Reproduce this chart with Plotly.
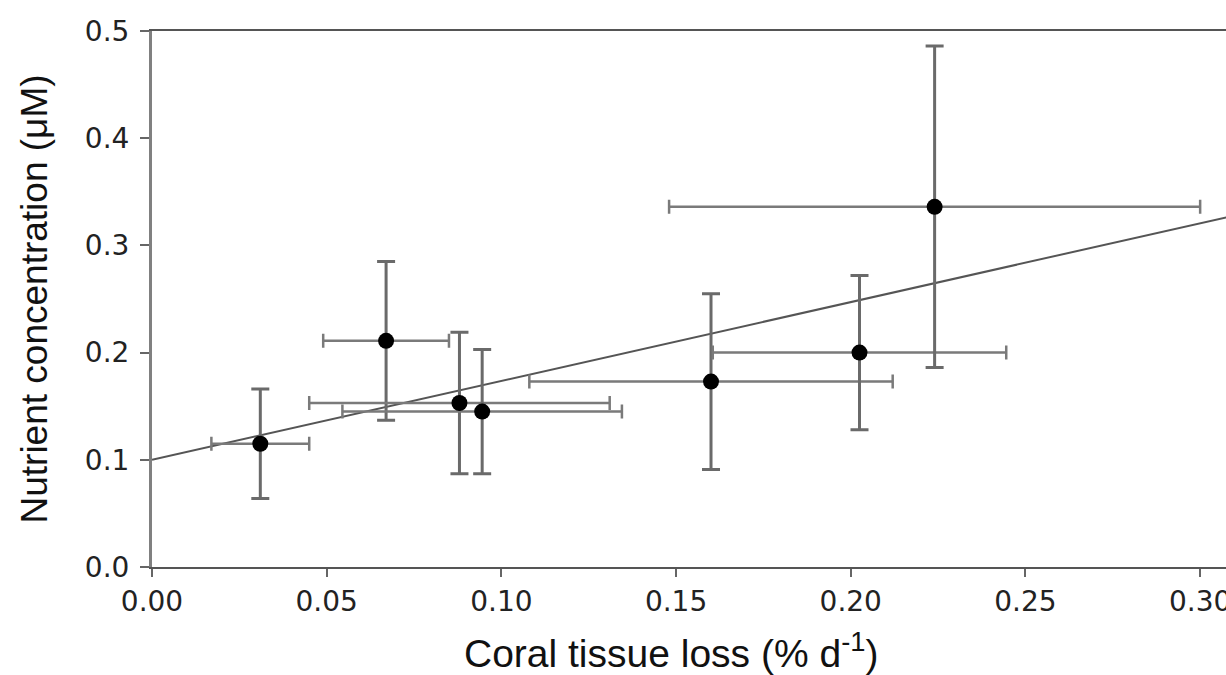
import plotly.graph_objects as go

# Data
tissue_loss = [0.031, 0.067, 0.088, 0.0945, 0.160, 0.2025, 0.224]
tissue_loss_err = [0.014, 0.018, 0.043, 0.040, 0.052, 0.042, 0.076]
nutrient = [0.115, 0.211, 0.153, 0.145, 0.173, 0.200, 0.336]
nutrient_err = [0.051, 0.074, 0.066, 0.058, 0.082, 0.072, 0.150]

fit_x = [0.0, 0.31]
fit_y = [0.100, 0.328]

x_ticks = [0.00, 0.05, 0.10, 0.15, 0.20, 0.25, 0.30]
y_ticks = [0.0, 0.1, 0.2, 0.3, 0.4, 0.5]

x_title = "Coral tissue loss (% d<sup>-1</sup>)"
y_title = "Nutrient concentration (μM)"

fig = go.Figure()

fig.add_trace(go.Scatter(
    x=fit_x, y=fit_y, mode="lines",
    line=dict(color="#555555", width=2),
    showlegend=False, hoverinfo="skip",
))

fig.add_trace(go.Scatter(
    x=tissue_loss, y=nutrient, mode="markers",
    marker=dict(color="black", size=16),
    error_x=dict(type="data", array=tissue_loss_err, visible=True,
                 color="#7a7a7a", thickness=2.5, width=7),
    error_y=dict(type="data", array=nutrient_err, visible=True,
                 color="#6a6a6a", thickness=3, width=9),
    showlegend=False,
))

title_font = "Liberation Sans, Arial, sans-serif"
tick_font = "DejaVu Sans, sans-serif"

fig.update_layout(
    width=1226, height=675,
    margin=dict(l=152, r=0, t=31, b=108, autoexpand=False),
    paper_bgcolor="white", plot_bgcolor="white",
    font=dict(family=title_font, color="#1a1a1a"),
    xaxis=dict(
        range=[0, 0.3074], automargin=False,
        tickvals=x_ticks, tickformat=".2f",
        ticks="outside", ticklen=8, tickwidth=2, tickcolor="#666666",
        ticklabeloverflow="allow",
        showline=True, linecolor="#555555", linewidth=2, mirror=True,
        showgrid=False, zeroline=False,
        tickfont=dict(size=28, family=tick_font, color="#222222"),
    ),
    yaxis=dict(
        range=[0, 0.5], automargin=False,
        tickvals=y_ticks, tickformat=".1f",
        ticks="outside", ticklen=9, tickwidth=2, tickcolor="#666666",
        ticklabelstandoff=5,
        showline=True, linecolor="#808080", linewidth=3, mirror=False,
        showgrid=False, zeroline=False,
        tickfont=dict(size=28, family=tick_font, color="#222222"),
        title=dict(text=y_title,
                   font=dict(size=37, family=title_font, color="#111111"),
                   standoff=26),
    ),
    annotations=[dict(
        text=x_title, xref="paper", yref="paper",
        x=0.483, y=-0.1565, xanchor="center", yanchor="middle",
        showarrow=False,
        font=dict(size=39, family=title_font, color="#111111"),
    )],
)

fig.write_html("out.html")
